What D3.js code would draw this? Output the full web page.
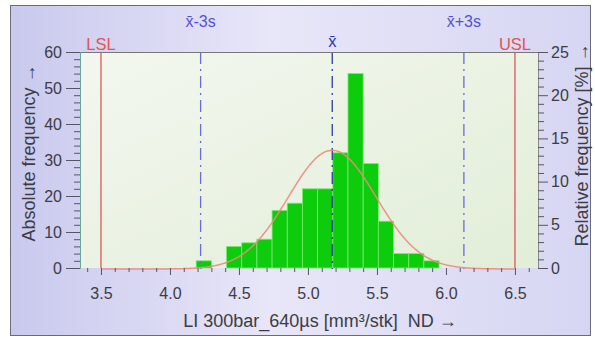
<!DOCTYPE html>
<html>
<head>
<meta charset="utf-8">
<script src="https://cdn.jsdelivr.net/npm/d3@7"></script>
<style>
  html, body { margin: 0; padding: 0; background: #fff; }
  svg { display: block; font-family: "Liberation Sans", Arial, sans-serif; }
</style>
</head>
<body>
<svg id="chart" width="595" height="338"></svg>
<script>
// Histogram: lower edges of the classes and their counts
const binLower = [4.19, 4.30, 4.41, 4.52, 4.63, 4.74, 4.85, 4.96, 5.07, 5.18, 5.29, 5.40, 5.51, 5.62, 5.73, 5.84];
const counts   = [2, 0, 6, 7, 8, 16, 18, 22, 22, 32, 54, 29, 13, 4, 4, 2];
const binWidth = 0.11;

// Process statistics and specification limits
const mean = 5.176;
const sigma = 0.318;
const LSL = 3.5;
const USL = 6.5;

// Axis ticks
const xTickLabels = [3.5, 4.0, 4.5, 5.0, 5.5, 6.0, 6.5];
const yLeftTicks = [0, 10, 20, 30, 40, 50, 60];
const yRightTicks = [0, 5, 10, 15, 20, 25];

const total = d3.sum(counts);
const svg = d3.select("#chart");
const textColor = "#3c3c44";

// Plot rectangle
const pLeft = 80, pRight = 538, pTop = 52, pBottom = 268;

const x = d3.scaleLinear().domain([3.348, 6.667]).range([pLeft, pRight]);
const y = d3.scaleLinear().domain([0, 60]).range([pBottom, pTop]);
const yRel = d3.scaleLinear().domain([0, 25]).range([pBottom, pTop]);

const defs = svg.append("defs");
const outerGrad = defs.append("linearGradient").attr("id", "outerGrad")
  .attr("x1", 0).attr("y1", 0).attr("x2", 1).attr("y2", 0);
outerGrad.append("stop").attr("offset", "0%").attr("stop-color", "#c9c9ee");
outerGrad.append("stop").attr("offset", "45%").attr("stop-color", "#e8e6f8");
outerGrad.append("stop").attr("offset", "100%").attr("stop-color", "#d6d6f3");

const plotGrad = defs.append("linearGradient").attr("id", "plotGrad")
  .attr("x1", 0).attr("y1", 0).attr("x2", 1).attr("y2", 1);
plotGrad.append("stop").attr("offset", "0%").attr("stop-color", "#f3f7ef");
plotGrad.append("stop").attr("offset", "100%").attr("stop-color", "#e2eed8");

// Outer frame
svg.append("rect").attr("x", 10.5).attr("y", 5.5).attr("width", 580).attr("height", 330)
  .attr("fill", "url(#outerGrad)").attr("stroke", "#6a6a7a").attr("stroke-width", 1);

// Plot background
svg.append("rect").attr("x", pLeft).attr("y", pTop).attr("width", pRight - pLeft).attr("height", pBottom - pTop)
  .attr("fill", "url(#plotGrad)");

// Bars
svg.append("g").selectAll("rect")
  .data(binLower.map((b, i) => ({ b, c: counts[i] })).filter(d => d.c > 0))
  .join("rect")
  .attr("x", d => x(d.b))
  .attr("y", d => y(d.c))
  .attr("width", d => x(d.b + binWidth) - x(d.b))
  .attr("height", d => y(0) - y(d.c))
  .attr("fill", "#0ccc0c")
  .attr("stroke", "#7aea6e")
  .attr("stroke-width", 0.8);

// Specification limits
[LSL, USL].forEach(v => {
  svg.append("line").attr("x1", x(v)).attr("x2", x(v)).attr("y1", pTop).attr("y2", pBottom)
    .attr("stroke", "#e04848").attr("stroke-width", 1.2);
});

// Mean and +/- 3s lines
const lineSpecs = [
  { v: mean - 3 * sigma, color: "#6c6cd8" },
  { v: mean, color: "#2c3c9c" },
  { v: mean + 3 * sigma, color: "#6c6cd8" }
];
lineSpecs.forEach(s => {
  svg.append("line").attr("x1", x(s.v)).attr("x2", x(s.v)).attr("y1", pTop).attr("y2", pBottom + 1)
    .attr("stroke", s.color).attr("stroke-width", 1.3)
    .attr("stroke-dasharray", "12,5,2,5");
});

// Fitted normal curve, drawn between the specification limits
const scaleN = total * binWidth / (sigma * Math.sqrt(2 * Math.PI));
const curvePts = d3.range(LSL, USL + 0.0001, 0.01).map(v =>
  [v, scaleN * Math.exp(-0.5 * Math.pow((v - mean) / sigma, 2))]);
svg.append("path")
  .datum(curvePts)
  .attr("d", d3.line().x(d => x(d[0])).y(d => y(d[1]) + 1).curve(d3.curveBasis))
  .attr("fill", "none").attr("stroke", "#ec8a80").attr("stroke-width", 1.5).attr("stroke-opacity", 0.9);

// Plot frame top border
svg.append("line").attr("x1", pLeft).attr("x2", pRight).attr("y1", pTop + 0.5).attr("y2", pTop + 0.5)
  .attr("stroke", "#777").attr("stroke-width", 1);

function styleTicks(g, size) {
  g.selectAll(".tick line").attr("stroke", "#556");
  g.selectAll(".tick text").attr("fill", textColor).attr("font-size", size)
    .attr("font-family", "Liberation Sans, Arial, sans-serif");
}

// X axis
const xMinor = d3.range(34, 67, 1).map(v => v / 10);
const gx = svg.append("g").attr("transform", `translate(0,${pBottom})`)
  .call(d3.axisBottom(x).tickValues(xTickLabels).tickFormat(d3.format(".1f")).tickSize(7).tickPadding(13));
gx.select(".domain").remove();
styleTicks(gx, 16);
svg.append("g").attr("transform", `translate(0,${pBottom})`)
  .call(d3.axisBottom(x).tickValues(xMinor.filter(v => !xTickLabels.some(t => Math.abs(t - v) < 1e-6))).tickSize(4).tickFormat(""))
  .call(g => g.select(".domain").remove())
  .call(g => g.selectAll(".tick line").attr("stroke", "#556"));

// Left axis (absolute frequency)
const gy = svg.append("g").attr("transform", `translate(${pLeft},0)`)
  .call(d3.axisLeft(y).tickValues(yLeftTicks).tickSize(14).tickPadding(4));
gy.select(".domain").attr("stroke", "#6aa89a");
styleTicks(gy, 16);
svg.append("g").attr("transform", `translate(${pLeft},0)`)
  .call(d3.axisLeft(y).tickValues(d3.range(0, 61, 2).filter(v => v % 10 !== 0)).tickSize(6).tickFormat(""))
  .call(g => g.select(".domain").remove())
  .call(g => g.selectAll(".tick line").attr("stroke", "#556"));

// Right axis (relative frequency in %)
const gr = svg.append("g").attr("transform", `translate(${pRight},0)`)
  .call(d3.axisRight(yRel).tickValues(yRightTicks).tickSize(10).tickPadding(3));
gr.select(".domain").attr("stroke", "#888");
styleTicks(gr, 16);
svg.append("g").attr("transform", `translate(${pRight},0)`)
  .call(d3.axisRight(yRel).tickValues(d3.range(0, 26, 1).filter(v => v % 5 !== 0)).tickSize(6).tickFormat(""))
  .call(g => g.select(".domain").remove())
  .call(g => g.selectAll(".tick line").attr("stroke", "#556"));

// Axis titles
svg.append("text")
  .attr("transform", "translate(35,153) rotate(-90)")
  .attr("text-anchor", "middle").attr("font-size", 18).attr("fill", textColor)
  .text("Absolute frequency \u2192");
svg.append("text")
  .attr("transform", "translate(588,145) rotate(-90)")
  .attr("text-anchor", "middle").attr("font-size", 18).attr("fill", textColor)
  .text("Relative frequency [%] \u2192");
svg.append("text")
  .attr("x", 320).attr("y", 327)
  .attr("text-anchor", "middle").attr("font-size", 18).attr("fill", textColor)
  .text("LI 300bar_640\u00b5s [mm\u00b3/stk]\u00a0 ND \u2192");

// Line labels
const xbar = "x\u0304";
const labels = [
  { v: mean - 3 * sigma, t: xbar + "-3s", yPos: 27, size: 16, color: "#5252d6" },
  { v: mean, t: xbar, yPos: 47, size: 16.5, color: "#3434b4" },
  { v: mean + 3 * sigma, t: xbar + "+3s", yPos: 27, size: 16, color: "#5252d6" },
  { v: LSL, t: "LSL", yPos: 50, size: 16.5, color: "#e05454" },
  { v: USL, t: "USL", yPos: 50, size: 16.5, color: "#e05454" }
];
svg.append("g").selectAll("text").data(labels).join("text")
  .attr("x", d => x(d.v)).attr("y", d => d.yPos)
  .attr("text-anchor", "middle").attr("font-size", d => d.size)
  .attr("fill", d => d.color)
  .text(d => d.t);
</script>
</body>
</html>
